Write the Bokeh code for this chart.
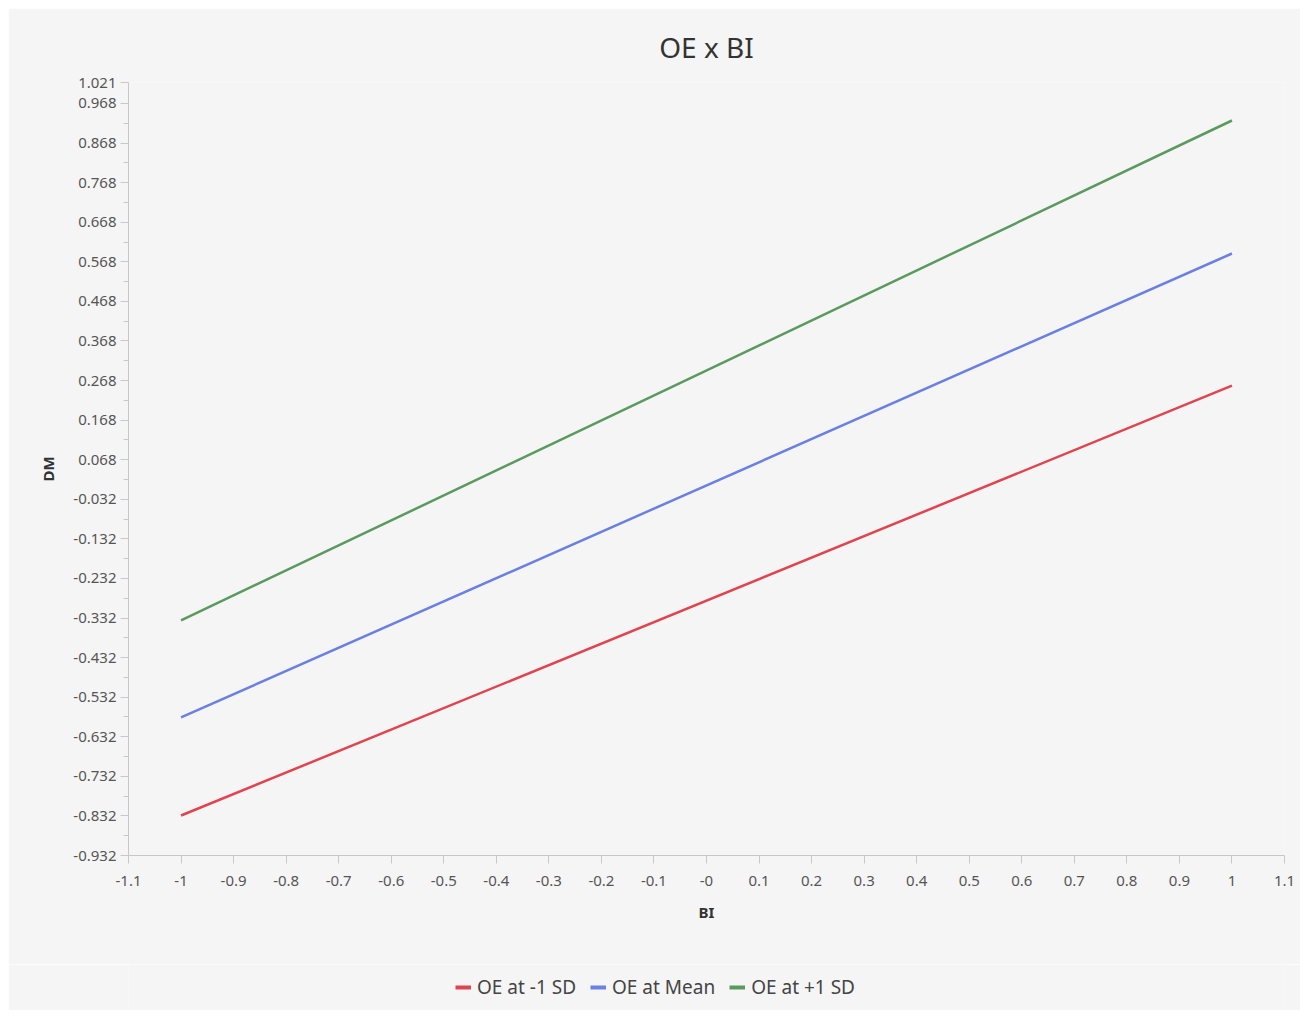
from bokeh.plotting import figure
from bokeh.layouts import column
from bokeh.models import FixedTicker, Legend, LegendItem, Range1d
from bokeh.embed import file_html
from bokeh.resources import INLINE

# ---- data ----
bi = [-1.0, 1.0]
oe_minus1 = [-0.831, 0.255]
oe_mean = [-0.583, 0.589]
oe_plus1 = [-0.338, 0.925]

series_names = ["OE at -1 SD", "OE at Mean", "OE at +1 SD"]
series_colors = ["#e0444f", "#6a80e2", "#5b9a5f"]

x_ticks = [-1.1, -1.0, -0.9, -0.8, -0.7, -0.6, -0.5, -0.4, -0.3, -0.2, -0.1, 0.0,
           0.1, 0.2, 0.3, 0.4, 0.5, 0.6, 0.7, 0.8, 0.9, 1.0, 1.1]
x_labels = ["-1.1", "-1", "-0.9", "-0.8", "-0.7", "-0.6", "-0.5", "-0.4", "-0.3", "-0.2",
            "-0.1", "-0", "0.1", "0.2", "0.3", "0.4", "0.5", "0.6", "0.7", "0.8", "0.9",
            "1", "1.1"]
y_ticks = [-0.932, -0.832, -0.732, -0.632, -0.532, -0.432, -0.332, -0.232, -0.132,
           -0.032, 0.068, 0.168, 0.268, 0.368, 0.468, 0.568, 0.668, 0.768, 0.868,
           0.968, 1.021]
y_labels = ["-0.932", "-0.832", "-0.732", "-0.632", "-0.532", "-0.432", "-0.332",
            "-0.232", "-0.132", "-0.032", "0.068", "0.168", "0.268", "0.368", "0.468",
            "0.568", "0.668", "0.768", "0.868", "0.968", "1.021"]
y_minor = [-0.882, -0.782, -0.682, -0.582, -0.482, -0.382, -0.282, -0.182, -0.082,
           0.018, 0.118, 0.218, 0.318, 0.418, 0.518, 0.618, 0.718, 0.818, 0.918]

FONT = "Noto Sans"
BG = "#f5f5f5"

p = figure(frame_width=1156, frame_height=773, output_backend="svg", toolbar_location=None,
           x_range=Range1d(-1.1, 1.1), y_range=Range1d(-0.932, 1.021),
           title="OE x BI", x_axis_label="BI", y_axis_label="DM",
           min_border_left=120, min_border_right=16, min_border_top=74,
           min_border_bottom=109)
p.margin = (8, 0, 0, 8)
p.background_fill_color = BG
p.border_fill_color = BG
p.outline_line_color = None
p.xgrid.visible = False
p.ygrid.visible = False

p.title.align = "center"
p.title.text_font = FONT
p.title.text_font_size = "28px"
p.title.text_font_style = "normal"
p.title.text_color = "#333333"
p.title.text_line_height = 1.0
p.title.standoff = 34

for ys, c in zip([oe_minus1, oe_mean, oe_plus1], series_colors):
    p.line(bi, ys, line_color=c, line_width=2.5)

for ax in (p.xaxis[0], p.yaxis[0]):
    ax.axis_line_color = "#c8c8c8"
    ax.major_tick_line_color = "#c8c8c8"
    ax.minor_tick_line_color = "#c8c8c8"
    ax.major_label_text_font = FONT
    ax.major_label_text_font_size = "15px"
    ax.major_label_text_color = "#555555"
    ax.axis_label_text_font = FONT
    ax.axis_label_text_font_size = "15px"
    ax.axis_label_text_font_style = "bold"
    ax.axis_label_text_color = "#333333"
    ax.major_tick_in = 0
    ax.minor_tick_in = 0

p.xaxis[0].ticker = FixedTicker(ticks=x_ticks, minor_ticks=[])
p.xaxis[0].major_label_overrides = {t: l for t, l in zip(x_ticks, x_labels)}
p.xaxis[0].major_tick_out = 8
p.xaxis[0].major_label_standoff = 12
p.xaxis[0].axis_label_standoff = 13

p.yaxis[0].ticker = FixedTicker(ticks=y_ticks, minor_ticks=y_minor)
p.yaxis[0].major_label_overrides = {t: l for t, l in zip(y_ticks, y_labels)}
p.yaxis[0].major_tick_out = 8
p.yaxis[0].minor_tick_out = 5
p.yaxis[0].major_label_standoff = 4
p.yaxis[0].axis_label_standoff = 12

# ---- legend strip below the chart ----
lg = figure(width=1292, height=46, output_backend="svg", toolbar_location=None,
            x_range=Range1d(5, 6), y_range=Range1d(5, 6),
            x_axis_location=None, y_axis_location=None,
            min_border_left=0, min_border_right=0, min_border_top=0, min_border_bottom=0)
lg.margin = (0, 0, 0, 8)
lg.background_fill_color = BG
lg.border_fill_color = BG
lg.outline_line_color = None
lg.xgrid.visible = False
lg.ygrid.visible = False

lg_renderers = []
for ys, c in zip([oe_minus1, oe_mean, oe_plus1], series_colors):
    lg_renderers.append(lg.line(bi, ys, line_color=c, line_width=4))

legend = Legend(items=[LegendItem(label=n, renderers=[r]) for n, r in zip(series_names, lg_renderers)],
                orientation="horizontal", location=(327, 10))
legend.background_fill_alpha = 0
legend.border_line_color = None
legend.label_text_font = FONT
legend.label_text_font_size = "19px"
legend.label_text_color = "#444444"
legend.glyph_width = 16
legend.glyph_height = 16
legend.label_standoff = 6
legend.spacing = 14
legend.margin = 0
legend.padding = 0
lg.add_layout(legend, "center")

layout = column(p, lg, spacing=0)
open("out.html", "w").write(file_html(layout, INLINE))
